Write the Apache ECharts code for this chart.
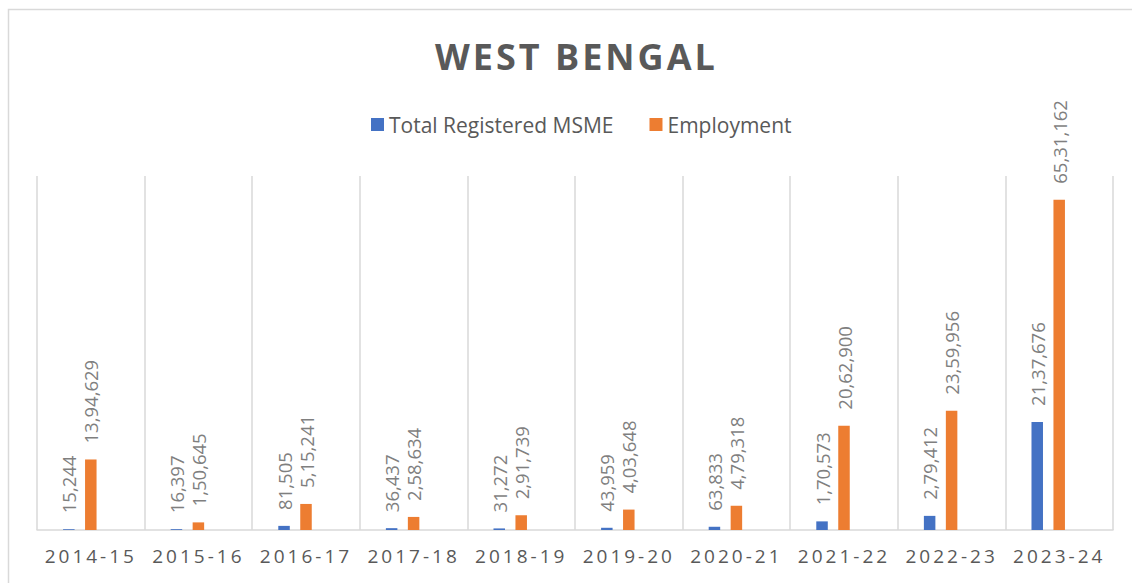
<!DOCTYPE html>
<html>
<head>
<meta charset="utf-8">
<script src="https://cdn.jsdelivr.net/npm/echarts@6/dist/echarts.min.js"></script>
<style>
  html, body { margin: 0; padding: 0; background: #fff; }
  #chart { width: 1132px; height: 583px; }
  /* spaced lettering for title and year labels */
  #chart text[style*="36px"] { letter-spacing: 3px; }
  #chart text[style*="19px"] { letter-spacing: 3px; }
</style>
</head>
<body>
<div id="chart"></div>
<script>
const years = ['2014-15', '2015-16', '2016-17', '2017-18', '2018-19', '2019-20', '2020-21', '2021-22', '2022-23', '2023-24']
const msme = [15244, 16397, 81505, 36437, 31272, 43959, 63833, 170573, 279412, 2137676]
const employment = [1394629, 150645, 515241, 258634, 291739, 403648, 479318, 2062900, 2359956, 6531162]
const spacer = [null, null, null, null, null, null, null, null, null, null]

const textColor = '#595959'
const lineColor = '#d9d9d9'

// indian digit grouping: 65,31,162
function inr(v) {
  const s = String(Math.round(v))
  if (s.length <= 3) return s
  let head = s.slice(0, -3)
  const tail = s.slice(-3)
  head = head.replace(/\B(?=(\d{2})+(?!\d))/g, ',')
  return head + ',' + tail
}

const barLabel = {
  show: true,
  position: 'top',
  rotate: 90,
  align: 'left',
  verticalAlign: 'middle',
  distance: 16,
  color: '#7f7f7f',
  fontSize: 18.5,
  fontFamily: 'Open Sans',
  formatter: (p) => inr(p.value)
}

const chart = echarts.init(document.getElementById('chart'), null, { renderer: 'svg' })
chart.setOption({
  animation: false,
  title: {
    text: 'WEST BENGAL',
    left: 430,
    top: 33,
    textStyle: {
      color: textColor,
      fontSize: 36,
      fontWeight: 'bold',
      fontFamily: 'Open Sans'
    }
  },
  legend: {
    data: ['Total Registered MSME', 'Employment'],
    left: 366,
    top: 109,
    itemWidth: 13,
    itemHeight: 13,
    itemGap: 36,
    icon: 'rect',
    textStyle: {
      color: textColor,
      fontSize: 21,
      fontFamily: 'Open Sans'
    }
  },
  graphic: [
    {
      type: 'rect',
      shape: { x: 8.5, y: 9.5, width: 1140, height: 600 },
      style: { fill: 'none', stroke: lineColor, lineWidth: 1.5 },
      silent: true
    }
  ],
  grid: {
    left: 37,
    right: 19,
    top: 176,
    bottom: 53
  },
  xAxis: {
    type: 'category',
    data: years,
    axisTick: { show: false },
    axisLine: { show: true, lineStyle: { color: lineColor, width: 1.5 } },
    splitLine: { show: true, lineStyle: { color: lineColor, width: 1.5 } },
    axisLabel: {
      color: textColor,
      fontSize: 19,
      fontFamily: 'Open Sans',
      margin: 16,
      interval: 0
    }
  },
  yAxis: {
    type: 'value',
    min: 0,
    max: 7000000,
    show: false,
    splitLine: { show: false }
  },
  series: [
    {
      name: 'Total Registered MSME',
      type: 'bar',
      data: msme,
      barWidth: 11.5,
      barGap: '91%',
      itemStyle: { color: '#4472C4' },
      label: barLabel
    },
    {
      name: 'Employment',
      type: 'bar',
      data: employment,
      barWidth: 11.5,
      barGap: '91%',
      itemStyle: { color: '#ED7D31' },
      label: barLabel
    },
    {
      name: 'spacer',
      type: 'bar',
      data: spacer,
      barWidth: 11.5,
      barGap: '91%',
      silent: true
    }
  ]
})
</script>
</body>
</html>
